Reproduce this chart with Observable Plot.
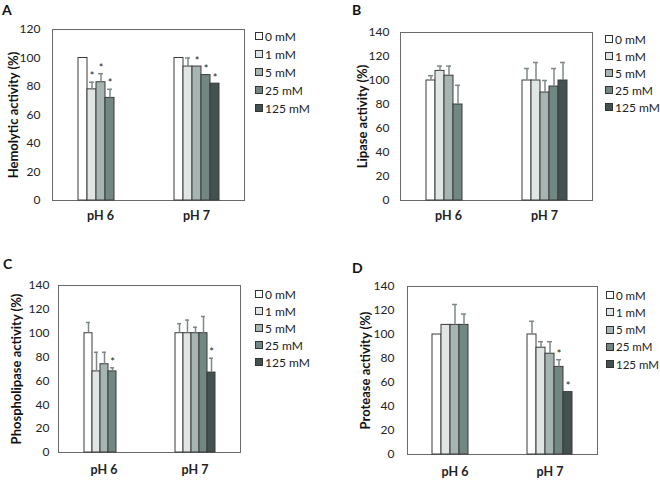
<!DOCTYPE html>
<html><head><meta charset="utf-8">
<script src="https://cdn.jsdelivr.net/npm/d3@7"></script>
<script src="https://cdn.jsdelivr.net/npm/@observablehq/plot@0.6"></script>
<style>
body{margin:0;background:#fff;font-family:Lato, sans-serif;}
#root{position:relative;width:660px;height:480px;overflow:hidden;}
.panel{position:absolute;width:330px;height:240px;}
.panel svg{position:absolute;left:0;top:0;}
.letter{position:absolute;font-weight:bold;font-size:14px;line-height:14px;color:#111;}
.lg{position:absolute;font-size:12px;color:#222;}
.lg .row{position:absolute;left:0;display:flex;align-items:center;white-space:nowrap;height:12px;}
.lg .sw{width:6px;height:6px;border:1px solid #333;margin-right:2px;flex:none;}
</style></head><body><div id="root"></div><script>
const concentrations = ["0 mM", "1 mM", "5 mM", "25 mM", "125 mM"];
const phLabels = ["pH 6", "pH 7"];
const barColors = ["#ffffff", "#dfe6e4", "#a6b4b2", "#728684", "#435150"];
const panelLetters = ["A", "B", "C", "D"];
const yLabels = ["Hemolytic activity (%)", "Lipase activity (%)", "Phospholipase activity (%)", "Protease activity (%)"];
const yTicks120 = [0, 20, 40, 60, 80, 100, 120];
const yTicks140 = [0, 20, 40, 60, 80, 100, 120, 140];

// A: hemolytic
const hemoPH6 = [100, 78, 83, 72, null];
const hemoPH6Err = [0, 5, 6, 6, null];
const hemoPH6Star = [0, 1, 1, 1, 0];
const hemoPH7 = [100, 94, 94, 88, 82];
const hemoPH7Err = [0, 6, 0, 0, 0];
const hemoPH7Star = [0, 0, 1, 1, 1];

// B: lipase
const lipPH6 = [100, 108, 104, 80, null];
const lipPH6Err = [4, 4, 8, 16, null];
const lipPH6Star = [0, 0, 0, 0, 0];
const lipPH7 = [100, 100, 90, 95, 100];
const lipPH7Err = [10, 15, 10, 15, 15];
const lipPH7Star = [0, 0, 0, 0, 0];

// C: phospholipase
const phosPH6 = [100, 68, 74, 68, null];
const phosPH6Err = [9, 16, 10, 3, null];
const phosPH6Star = [0, 0, 0, 1, 0];
const phosPH7 = [100, 100, 100, 100, 67];
const phosPH7Err = [8, 11, 5, 14, 12];
const phosPH7Star = [0, 0, 0, 0, 1];

// D: protease
const protPH6 = [100, 108, 108, 108, null];
const protPH6Err = [0, 0, 17, 9, null];
const protPH6Star = [0, 0, 0, 0, 0];
const protPH7 = [100, 89, 84, 73, 52];
const protPH7Err = [11, 5, 10, 6, 0];
const protPH7Star = [0, 0, 0, 1, 1];

function rows(v6, e6, s6, v7, e7, s7) {
  const out = [];
  [[v6, e6, s6], [v7, e7, s7]].forEach(([v, e, s], pi) => concentrations.forEach((c, i) => {
    if (v[i] != null) out.push({pH: phLabels[pi], conc: c, value: v[i], err: e[i], star: !!s[i]});
  }));
  return out;
}

const panels = [
  {data: rows(hemoPH6, hemoPH6Err, hemoPH6Star, hemoPH7, hemoPH7Err, hemoPH7Star), ymax: 120, ticks: yTicks120,
   left: 0, top: 0, m: [29, 86, 40, 52], letter: [2, 3], tickPad: 12, labDx: -39, fxPad: 11, lg: [255, 30, 18]},
  {data: rows(lipPH6, lipPH6Err, lipPH6Star, lipPH7, lipPH7Err, lipPH7Star), ymax: 140, ticks: yTicks140,
   left: 330, top: 0, m: [32, 68, 40, 70], letter: [22, 3], tickPad: 11, labDx: -38, fxPad: 11, lg: [275, 33, 17]},
  {data: rows(phosPH6, phosPH6Err, phosPH6Star, phosPH7, phosPH7Err, phosPH7Star), ymax: 140, ticks: yTicks140,
   left: 0, top: 240, m: [45, 90, 28, 57], letter: [3, 17], tickPad: 9, labDx: -42, fxPad: 13, lg: [255, 48, 17]},
  {data: rows(protPH6, protPH6Err, protPH6Star, protPH7, protPH7Err, protPH7Star), ymax: 140, ticks: yTicks140,
   left: 330, top: 240, m: [46, 63, 26, 77], letter: [22, 21], tickPad: 13, labDx: -42, fxPad: 13, lg: [276, 49, 17.3]}
];

const root = document.getElementById("root");
panels.forEach((p, k) => {
  const div = document.createElement("div");
  div.className = "panel";
  div.style.left = p.left + "px";
  div.style.top = p.top + "px";
  const errData = p.data.filter(d => d.err > 0);
  const starData = p.data.filter(d => d.star);
  const chart = Plot.plot({
    width: 330, height: 240,
    marginTop: p.m[0], marginRight: p.m[1], marginBottom: p.m[2], marginLeft: p.m[3],
    style: {fontFamily: "Lato, sans-serif", fontSize: "12px", color: "#222", background: "transparent", overflow: "visible"},
    fx: {domain: phLabels, padding: 0, label: null},
    x: {domain: concentrations, paddingInner: 0, paddingOuter: 2.6, axis: null},
    y: {domain: [0, p.ymax]},
    color: {domain: concentrations, range: barColors},
    marks: [
      Plot.frame({facet: "super", stroke: "#6a6a6a", strokeWidth: 1}),
      Plot.barY(p.data, {fx: "pH", x: "conc", y: "value", fill: "conc", stroke: "#3a3a3a", strokeWidth: 1}),
      Plot.ruleX(errData, {fx: "pH", x: "conc", y1: "value", y2: d => d.value + d.err, stroke: "#7f8888", strokeWidth: 1.5}),
      Plot.tickY(errData, {fx: "pH", x: "conc", y: d => d.value + d.err, stroke: "#7f8888", strokeWidth: 1.5, insetLeft: 2, insetRight: 2}),
      Plot.text(starData, {fx: "pH", x: "conc", y: d => d.value + d.err, text: () => "*", dy: -2, lineAnchor: "bottom", fontSize: 11, fill: "#222"}),
      Plot.axisY(p.ticks, {tickSize: 0, tickPadding: p.tickPad, fontSize: 12, label: null}),
      Plot.text([yLabels[k]], {facet: "super", frameAnchor: "left", rotate: -90, dx: p.labDx, textAnchor: "middle", lineAnchor: "middle", fontSize: 13, fontWeight: "bold", fill: "#111"}),
      Plot.axisFx({anchor: "bottom", tickSize: 0, tickPadding: p.fxPad, fontSize: 12.5, fontWeight: "bold", label: null})
    ]
  });
  div.appendChild(chart);

  const letter = document.createElement("div");
  letter.className = "letter";
  letter.textContent = panelLetters[k];
  letter.style.left = p.letter[0] + "px";
  letter.style.top = p.letter[1] + "px";
  div.appendChild(letter);

  const lg = document.createElement("div");
  lg.className = "lg";
  lg.style.left = p.lg[0] + "px";
  lg.style.top = p.lg[1] + "px";
  if (k === 3) lg.style.fontSize = "11.5px";
  concentrations.forEach((c, i) => {
    const r = document.createElement("div");
    r.className = "row";
    r.style.top = (i * p.lg[2]) + "px";
    const sw = document.createElement("span");
    sw.className = "sw";
    sw.style.background = barColors[i];
    const t = document.createElement("span");
    t.textContent = c;
    r.appendChild(sw); r.appendChild(t);
    lg.appendChild(r);
  });
  div.appendChild(lg);
  root.appendChild(div);
});
</script></body></html>
